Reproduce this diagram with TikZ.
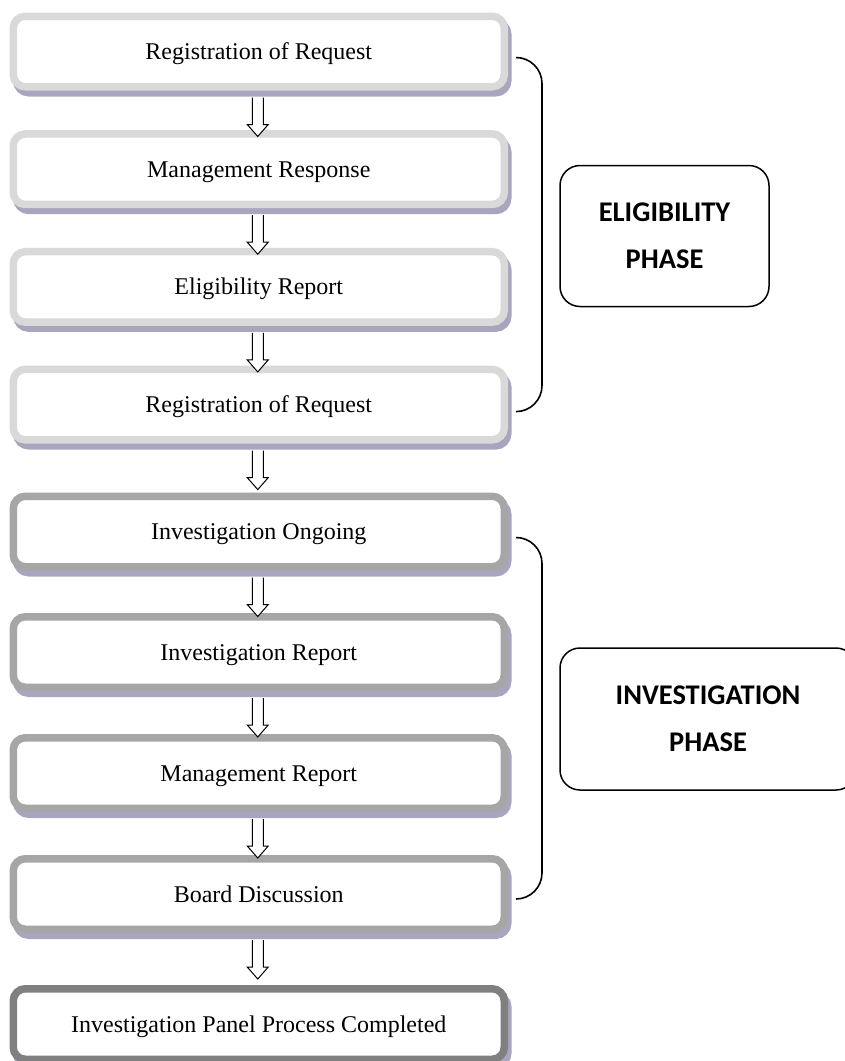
\documentclass[tikz,border=0pt]{standalone}
\usepackage{fontspec}
\setmainfont{Liberation Serif}
\newfontfamily\phasefont{Carlito}
\usetikzlibrary{calc,shadows}

\definecolor{stepA}{RGB}{217,217,217}
\definecolor{stepB}{RGB}{166,166,166}
\definecolor{stepC}{RGB}{128,128,128}
\definecolor{shadowc}{RGB}{170,165,190}

\tikzset{
  stepbox/.style={draw=#1, line width=7.5pt, rounded corners=12pt, fill=white,
    minimum width=491pt, minimum height=70.5pt, inner sep=0pt,
    text height=16pt, text depth=0pt,
    font=\fontsize{24}{28}\selectfont,
    drop shadow={shadow xshift=3.5pt, shadow yshift=-6pt,
      fill=shadowc, draw=shadowc, opacity=1}},
  phasebox/.style={draw=black, line width=1.5pt, rounded corners=20pt,
    align=center, inner sep=0pt,
    font=\phasefont\bfseries\fontsize{28.5}{47}\selectfont},
  flowarrow/.style={draw=black, fill=white, line width=1pt, line join=miter},
  bracket/.style={draw=black, line width=1.6pt, rounded corners=26pt},
}

% block arrow hanging below a step box
\newcommand\flowarrowbelow[1]{%
  \draw[flowarrow] ($(#1.south)+(-6.5,7)$) -- ($(#1.south)+(-6.5,34)$)
    -- ($(#1.south)+(-11.5,34)$) -- ($(#1.south)+(-1,46)$)
    -- ($(#1.south)+(9.5,34)$) -- ($(#1.south)+(4.5,34)$)
    -- ($(#1.south)+(4.5,7)$);}

\begin{document}
\begin{tikzpicture}[x=1pt, y=-1pt]
  \useasboundingbox (0,0) rectangle (844,1061);

  % eligibility steps
  \node[stepbox=stepA] (r1) at (258.75,51.5)  {Registration of Request};
  \node[stepbox=stepA] (r2) at (258.75,169.2) {Management Response};
  \node[stepbox=stepA] (r3) at (258.75,286.9) {Eligibility Report};
  \node[stepbox=stepA] (r4) at (258.75,404.6) {Registration of Request};

  % investigation steps
  \node[stepbox=stepB] (i1) at (258.75,531.5) {Investigation Ongoing};
  \node[stepbox=stepB] (i2) at (258.75,652)   {Investigation Report};
  \node[stepbox=stepB] (i3) at (258.75,773)   {Management Report};
  \node[stepbox=stepB] (i4) at (258.75,894)   {Board Discussion};

  % final step
  \node[stepbox=stepC] (done) at (258.75,1024) {Investigation Panel Process Completed};

  % arrows between consecutive steps
  \flowarrowbelow{r1}
  \flowarrowbelow{r2}
  \flowarrowbelow{r3}
  \flowarrowbelow{r4}
  \flowarrowbelow{i1}
  \flowarrowbelow{i2}
  \flowarrowbelow{i3}
  \flowarrowbelow{i4}

  % phase labels
  \node[phasebox, minimum width=209pt, minimum height=141pt] (elig) at (664.5,236)
    {ELIGIBILITY\\PHASE};
  \node[phasebox, minimum width=296pt, minimum height=142pt] (invest) at (708,719)
    {INVESTIGATION\\PHASE};

  % brackets grouping the steps of each phase
  \coordinate (e1) at ($(r1.east)+(8,6)$);
  \coordinate (e2) at ($(r4.east)+(8,7)$);
  \draw[bracket] (e1) -| ($(e1)!.5!(e2)+(26,0)$) |- (e2);

  \coordinate (v1) at ($(i1.east)+(8,6)$);
  \coordinate (v2) at ($(i4.east)+(8,5)$);
  \draw[bracket] (v1) -| ($(v1)!.5!(v2)+(26,0)$) |- (v2);
\end{tikzpicture}
\end{document}
